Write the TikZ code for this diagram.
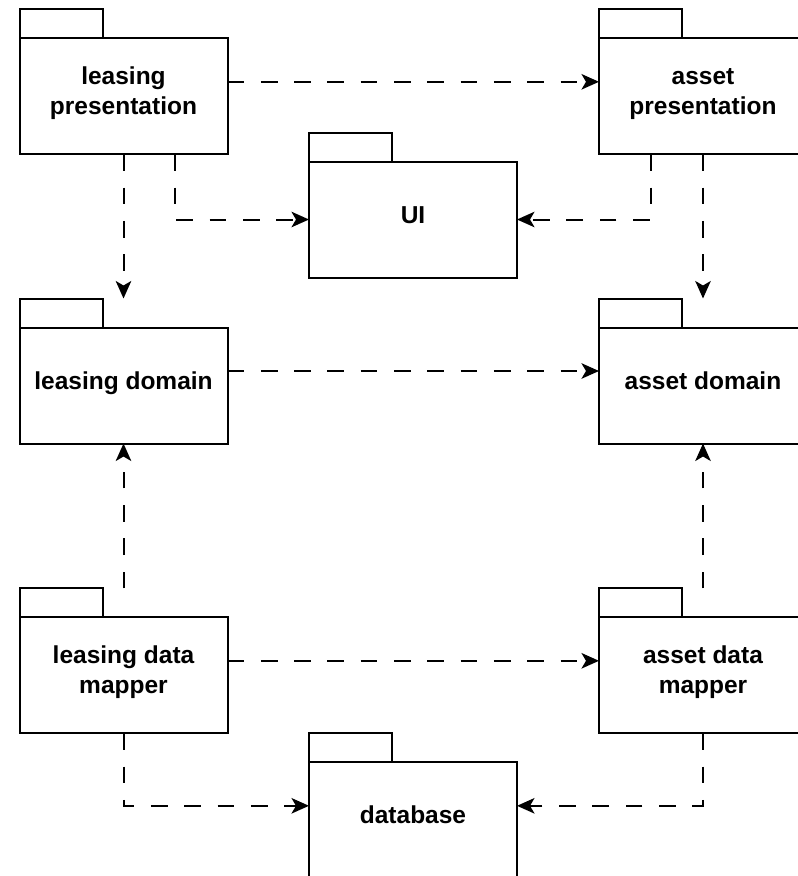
\documentclass[tikz,border=0pt]{standalone}
\usepackage{fontspec}
\setmainfont{Liberation Sans}
\usetikzlibrary{arrows.meta}
\tikzset{
  pkg/.style={rectangle, minimum width=208pt, minimum height=145pt, inner sep=0pt, outer sep=0pt},
  pkgline/.style={line width=2pt, draw=black},
  lbl/.style={font=\fontsize{24.5}{30}\selectfont\bfseries, align=center, inner sep=0pt},
  dep/.style={line width=2pt, dash pattern=on 16.7pt off 16.6pt,
    -{Stealth[length=17.5pt,width=15.5pt,inset=4.5pt]}},
}
\newcommand\pkgshape[1]{%
  \draw[pkgline] (#1.south west) rectangle ([yshift=-29pt]#1.north east);
  \draw[pkgline] ([yshift=-29pt]#1.north west) rectangle ([xshift=83pt]#1.north west);}
\begin{document}
\begin{tikzpicture}[x=1pt,y=-1pt]
\useasboundingbox (0,0) rectangle (798,876);
\clip (0,0) rectangle (798,876);
\fill[white] (0,0) rectangle (798,876);
% packages
\node[pkg] (lp) at (123.5,81.8) {};
\node[pkg] (ap) at (703,81.8) {};
\node[pkg] (ui) at (413,205.7) {};
\node[pkg] (ld) at (123.5,371) {};
\node[pkg] (ad) at (703,371) {};
\node[pkg] (lm) at (123.5,660.8) {};
\node[pkg] (am) at (703,660.8) {};
\node[pkg] (db) at (413,805.8) {};
\pkgshape{lp}\pkgshape{ap}\pkgshape{ui}\pkgshape{ld}
\pkgshape{ad}\pkgshape{lm}\pkgshape{am}\pkgshape{db}
% labels
\node[lbl] (lpt) at ([yshift=-12pt]lp.center) {\strut leasing\\\strut presentation};
\node[lbl] (apt) at ([yshift=-12pt]ap.center) {\strut asset\\\strut presentation};
\node[lbl] (uit) at ([yshift=-12pt]ui.center) {\strut UI};
\node[lbl] (ldt) at ([yshift=-12pt]ld.center) {\strut leasing domain};
\node[lbl] (adt) at ([yshift=-12pt]ad.center) {\strut asset domain};
\node[lbl] (lmt) at ([yshift=-12pt]lm.center) {\strut leasing data\\\strut mapper};
\node[lbl] (amt) at ([yshift=-12pt]am.center) {\strut asset data\\\strut mapper};
\node[lbl] (dbt) at ([yshift=-12pt]db.center) {\strut database};
% dependencies
\draw[dep] (lp.east) -- (ap.west);
\draw[dep] (ld.east) -- (ad.west);
\draw[dep] (lm.east) -- (am.west);
\draw[dep] (lp.south) -- (ld.north);
\draw[dep] (ap.south) -- (ad.north);
\draw[dep] (lm.north) -- (ld.south);
\draw[dep] (am.north) -- (ad.south);
\draw[dep] ([xshift=51.5pt]lp.south) |- ([yshift=-13.8pt]ui.west);
\draw[dep] ([xshift=-52pt]ap.south) |- ([yshift=-13.8pt]ui.east);
\draw[dep] (lm.south) |- (db.west);
\draw[dep] (am.south) |- (db.east);
\end{tikzpicture}
\end{document}
